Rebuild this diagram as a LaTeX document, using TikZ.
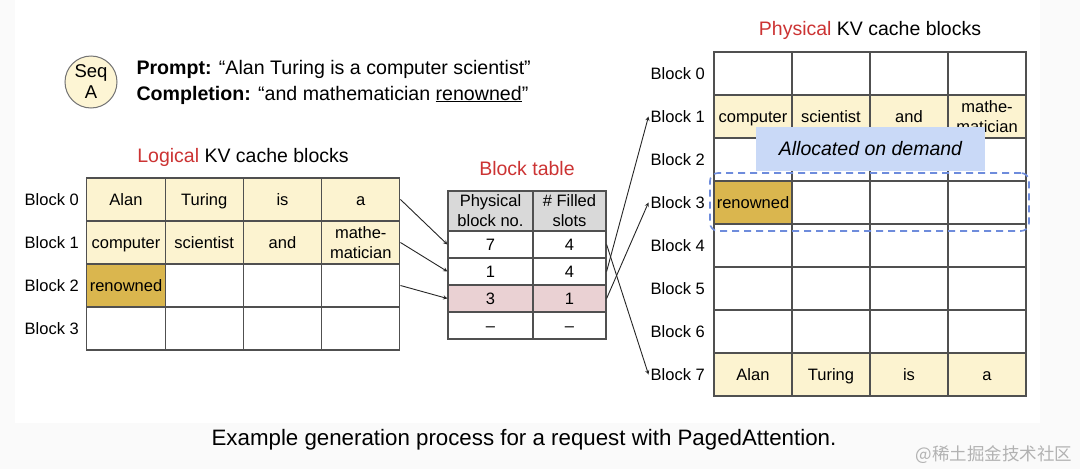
\documentclass[tikz,border=0pt]{standalone}
\usepackage{fontspec}
\setmainfont{Liberation Sans}
\newfontfamily\cjk{Noto Sans CJK SC}
\usetikzlibrary{positioning}
\usetikzlibrary{shapes.geometric, arrows}

\definecolor{tokyellow}{RGB}{252,243,208}
\definecolor{tokgold}{RGB}{218,182,78}
\definecolor{gridgray}{RGB}{80,80,80}
\definecolor{titlered}{RGB}{204,51,51}
\definecolor{headgray}{RGB}{217,217,217}
\definecolor{rowpink}{RGB}{234,209,211}
\definecolor{demandblue}{RGB}{201,217,247}
\definecolor{dashblue}{RGB}{110,140,220}
\definecolor{seqfill}{RGB}{253,245,212}
\definecolor{bggray}{RGB}{250,250,250}

\tikzstyle{cell} = [rectangle, draw=gridgray, line width=1.2pt, minimum width=78.25pt, minimum height=43pt, inner sep=0pt, text height=12pt, text depth=1pt, text centered, align=center, font=\fontsize{16.5}{20}\selectfont]
\tikzstyle{twoline} = [text height=, text depth=]
\tikzstyle{oldtok} = [cell, fill=tokyellow]
\tikzstyle{newtok} = [cell, fill=tokgold]
\tikzstyle{tablecell} = [cell, minimum height=27pt]
\tikzstyle{blocklabel} = [anchor=east, inner sep=2pt, font=\fontsize{16.5}{20}\selectfont]
\tikzstyle{title} = [font=\fontsize{19.5}{22}\selectfont]
\tikzstyle{arrow} = [line width=0.9pt, draw=black!85, ->, >=stealth]

\begin{document}
\begin{tikzpicture}[x=1pt, y=-1pt]
	\fill[bggray] (0,0) rectangle (1080,469);
	\fill[white] (15,0) rectangle (1040,423);
	\useasboundingbox (0,0) rectangle (1080,469);
	
	% sequence and its text
	\node (seqA) [circle, draw=black!55, line width=1pt, fill=seqfill, minimum size=52pt, inner sep=0pt, align=center, font=\fontsize{18.5}{21}\selectfont] at (91,82) {Seq\\A};
	\node (prompt) [anchor=west, align=left, font=\fontsize{19.6}{26}\selectfont] at (133,82) {\textbf{Prompt:} “Alan Turing is a computer scientist”\\\textbf{Completion:} “and mathematician \underline{renowned}”};
	
	% logical blocks
	\node (logTitle) [title] at (243,157) {\textcolor{titlered}{Logical} KV cache blocks};
	\foreach \r in {0,...,3}
		\node (logBlk\r) [blocklabel] at (81,{199.5+43*\r}) {Block \r};
	\foreach \word [count=\c from 0] in {Alan, Turing, is, a}
		\node (log0\c) [oldtok] at ({126+78.25*\c},199.5) {\word};
	\foreach \word [count=\c from 0] in {computer, scientist, and}
		\node (log1\c) [oldtok] at ({126+78.25*\c},242.5) {\word};
	\node (log13) [oldtok, twoline] at (360.75,242.5) {mathe-\\matician};
	\node (log20) [newtok] at (126,285.5) {renowned};
	\foreach \c in {1,2,3}
		\node (log2\c) [cell] at ({126+78.25*\c},285.5) {};
	\foreach \c in {0,...,3}
		\node (log3\c) [cell] at ({126+78.25*\c},328.5) {};
	
	% block table
	\node (btTitle) [title, text=titlered] at (527,169) {Block table};
	\node (btHeadA) [cell, twoline, fill=headgray, minimum width=85pt, minimum height=40pt] at (490.5,211) {Physical\\block no.};
	\node (btHeadB) [cell, twoline, fill=headgray, minimum width=73pt, minimum height=40pt] at (569.5,211) {\# Filled\\slots};
	\foreach \phys/\slots/\bg [count=\r from 0] in {7/4/white, 1/4/white, 3/1/rowpink, --/--/white}{
		\node (bt\r0) [tablecell, fill=\bg, minimum width=85pt] at (490.5,{244.5+27*\r}) {\phys};
		\node (bt\r1) [tablecell, fill=\bg, minimum width=73pt] at (569.5,{244.5+27*\r}) {\slots};
	}
	
	% physical blocks
	\node (phyTitle) [title] at (870,30) {\textcolor{titlered}{Physical} KV cache blocks};
	\foreach \r in {0,...,7}
		\node (phyBlk\r) [blocklabel] at (707,{73.5+43*\r}) {Block \r};
	\foreach \r in {0,2,4,5,6}
		\foreach \c in {0,...,3}
			\node (phy\r\c) [cell, minimum width=78pt] at ({753+78*\c},{73.5+43*\r}) {};
	\foreach \word [count=\c from 0] in {computer, scientist, and}
		\node (phy1\c) [oldtok, minimum width=78pt] at ({753+78*\c},116.5) {\word};
	\node (phy13) [oldtok, twoline, minimum width=78pt] at (987,116.5) {mathe-\\matician};
	\node (phy30) [newtok, minimum width=78pt] at (753,202.5) {renowned};
	\foreach \c in {1,2,3}
		\node (phy3\c) [cell, minimum width=78pt] at ({753+78*\c},202.5) {};
	\foreach \word [count=\c from 0] in {Alan, Turing, is, a}
		\node (phy7\c) [oldtok, minimum width=78pt] at ({753+78*\c},374.5) {\word};
	
	\node (onDemand) [rectangle, fill=demandblue, minimum width=229pt, minimum height=44pt, font=\fontsize{19.5}{22}\selectfont\itshape] at (870.5,149) {Allocated on demand};
	\node (newBlock) [rectangle, draw=dashblue, dash pattern=on 7pt off 5pt, line width=1.6pt, rounded corners=8pt, minimum width=319pt, minimum height=58pt] at (869.5,202) {};
	
	% mapping arrows
	\foreach \r in {0,1,2}
		\draw [arrow] (log\r3.east) -- (bt\r0.west);
	\draw [arrow] (bt01.east) -- (phyBlk7.west);
	\draw [arrow] (bt11.east) -- (phyBlk1.west);
	\draw [arrow] (bt21.east) -- (phyBlk3.west);
	
	\node (caption) [font=\fontsize{22.3}{25}\selectfont] at (524,440) {Example generation process for a request with PagedAttention.};
	\node (watermark) [anchor=east, text=black!30, font=\cjk\fontsize{17.5}{20}\selectfont] at (1076,455) {@稀土掘金技术社区};
\end{tikzpicture}
\end{document}
